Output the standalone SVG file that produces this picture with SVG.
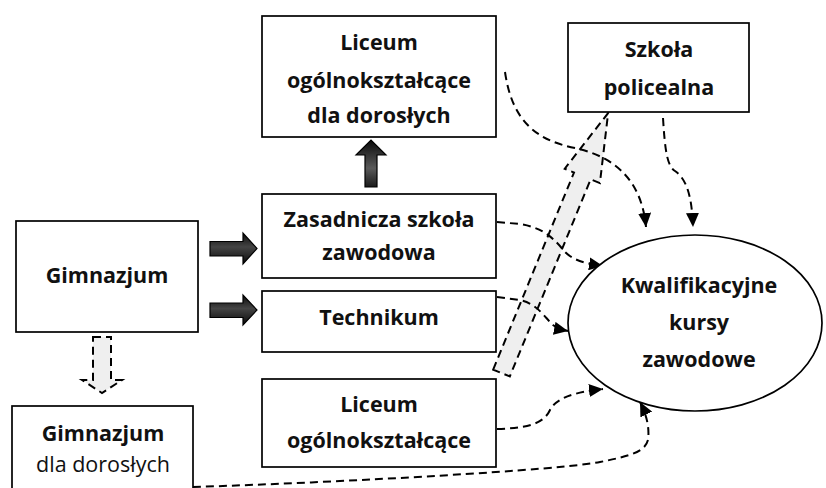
<svg xmlns="http://www.w3.org/2000/svg" width="826" height="488" viewBox="0 0 826 488">
<defs>
<style>
.box{fill:#fff;stroke:#000;stroke-width:1.7}
.t{font-family:"Open Sans","Noto Sans","DejaVu Sans",sans-serif;font-size:21.5px;font-weight:700;fill:#111;text-anchor:middle}
.tn{font-weight:400}
.dash{fill:none;stroke:#000;stroke-width:2;stroke-dasharray:8 5}
.hollow{fill:#efefef;stroke:#000;stroke-width:2;stroke-dasharray:8 5}
.thick{stroke:#000;stroke-width:1.2}
</style>
<marker id="ah" markerUnits="userSpaceOnUse" markerWidth="15" markerHeight="13" refX="14" refY="6.5" orient="auto">
<path d="M0,0 L14,6.5 L0,13 z" fill="#000"/>
</marker>
<linearGradient id="gh" x1="0" y1="0" x2="0" y2="1">
<stop offset="0" stop-color="#0a0a0a"/>
<stop offset="0.45" stop-color="#444"/>
<stop offset="1" stop-color="#0a0a0a"/>
</linearGradient>
<linearGradient id="gv" x1="0" y1="0" x2="0" y2="1">
<stop offset="0" stop-color="#0a0a0a"/>
<stop offset="0.6" stop-color="#5a5a5a"/>
<stop offset="1" stop-color="#1a1a1a"/>
</linearGradient>
</defs>
<rect width="826" height="488" fill="#fff"/>

<g id="connectors">
<polygon class="hollow" transform="translate(501.5,373) rotate(-67.7)" points="0,-9 213,-9 213,-19 281,0 213,19 213,9 0,9"/>
<path class="dash" d="M505,72 C512,120 535,140 575,148 C620,158 642,185 646,227" marker-end="url(#ah)"/>
<path class="dash" d="M663,118 C665,150 667,166 675,171 C688,180 692,200 693,227" marker-end="url(#ah)"/>
<path class="dash" d="M497,222 L520,224 C545,228 555,240 565,252 C575,262 590,264 603,266" marker-end="url(#ah)"/>
<path class="dash" d="M497,297 L520,300 C538,304 545,318 553,325 C558,329 563,330 568,331" marker-end="url(#ah)"/>
<path class="dash" d="M497,429 C525,428 543,425 550,410 C556,398 575,392 603,389" marker-end="url(#ah)"/>
<path class="dash" d="M193,487 C350,482 560,470 600,462 C630,456 645,452 648,440 C650,425 645,412 640,402" marker-end="url(#ah)"/>
<polygon class="thick" fill="url(#gh)" points="210,241.5 243,241.5 243,233 257,248.5 243,264 243,256 210,256"/>
<polygon class="thick" fill="url(#gh)" points="210,303 243,303 243,295 257,310 243,325 243,317.5 210,317.5"/>
<polygon class="thick" fill="url(#gv)" points="365,187 365,155 356,155 371,140 386,155 377,155 377,187"/>
<polygon class="hollow" points="93,337 111,337 111,380 122,380 102,393 82,380 93,380"/>
</g>

<g id="gimnazjum">
<rect class="box" x="16" y="221" width="182" height="111"/>
<text class="t" x="107" y="283">Gimnazjum</text>
</g>
<g id="gimnazjum-dorosli">
<rect class="box" x="12" y="406" width="181" height="90"/>
<text class="t" x="103" y="441">Gimnazjum</text>
<text class="t tn" x="103" y="472">dla dorosłych</text>
</g>
<g id="liceum-dorosli">
<rect class="box" x="262" y="16" width="234" height="121"/>
<text class="t" x="379" y="50">Liceum</text>
<text class="t" x="379" y="88">ogólnokształcące</text>
<text class="t" x="379" y="123">dla dorosłych</text>
</g>
<g id="zasadnicza">
<rect class="box" x="262" y="194" width="234" height="84"/>
<text class="t" x="379" y="227">Zasadnicza szkoła</text>
<text class="t" x="379" y="260">zawodowa</text>
</g>
<g id="technikum">
<rect class="box" x="262" y="291" width="234" height="61"/>
<text class="t" x="379" y="325">Technikum</text>
</g>
<g id="liceum">
<rect class="box" x="262" y="379" width="234" height="88"/>
<text class="t" x="379" y="412">Liceum</text>
<text class="t" x="379" y="448">ogólnokształcące</text>
</g>
<g id="policealna">
<rect class="box" x="568" y="23" width="181" height="89"/>
<text class="t" x="659" y="57">Szkoła</text>
<text class="t" x="659" y="95">policealna</text>
</g>
<g id="kursy">
<ellipse cx="695" cy="323" rx="127" ry="88" fill="#fff" stroke="#000" stroke-width="1.7"/>
<text class="t" x="699" y="293">Kwalifikacyjne</text>
<text class="t" x="699" y="330">kursy</text>
<text class="t" x="699" y="367">zawodowe</text>
</g>
</svg>
